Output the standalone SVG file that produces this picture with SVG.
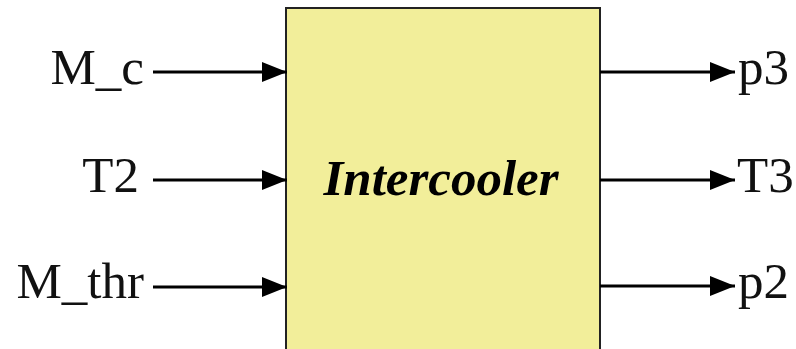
<svg xmlns="http://www.w3.org/2000/svg" width="796" height="349" viewBox="0 0 796 349">
  <defs>
    <marker id="arrow" viewBox="0 0 25 20" refX="25" refY="10" markerWidth="25" markerHeight="20" markerUnits="userSpaceOnUse" orient="auto">
      <path d="M0,0 L25,10 L0,20 Z" fill="#000"/>
    </marker>
    <style>
      .lbl { font-family: "Liberation Serif", "Times New Roman", serif; font-size: 51px; fill: #111; }
      .title { font-family: "Liberation Serif", "Times New Roman", serif; font-size: 51px; font-weight: bold; font-style: italic; fill: #000; }
      .wire { stroke: #000; stroke-width: 3; fill: none; marker-end: url(#arrow); }
    </style>
  </defs>
  <rect width="796" height="349" fill="#fff"/>

  <g id="intercooler">
    <rect x="286" y="8" width="314" height="360" fill="#F2EE9A" stroke="#222" stroke-width="2"/>
    <text class="title" x="441" y="195" text-anchor="middle">Intercooler</text>
  </g>

  <g id="in-M_c"><text class="lbl" x="144" y="84" text-anchor="end">M_c</text></g>
  <g id="in-T2"><text class="lbl" x="139" y="192" text-anchor="end">T2</text></g>
  <g id="in-M_thr"><text class="lbl" x="144" y="298" text-anchor="end">M_thr</text></g>
  <g id="out-p3"><text class="lbl" x="738" y="84">p3</text></g>
  <g id="out-T3"><text class="lbl" x="737" y="192">T3</text></g>
  <g id="out-p2"><text class="lbl" x="738" y="298">p2</text></g>

  <g id="connectors">
    <line class="wire" x1="153" y1="72" x2="287" y2="72"/>
    <line class="wire" x1="153" y1="180" x2="287" y2="180"/>
    <line class="wire" x1="153" y1="287" x2="287" y2="287"/>
    <line class="wire" x1="600" y1="72" x2="735" y2="72"/>
    <line class="wire" x1="600" y1="180" x2="735" y2="180"/>
    <line class="wire" x1="600" y1="286" x2="735" y2="286"/>
  </g>
</svg>
